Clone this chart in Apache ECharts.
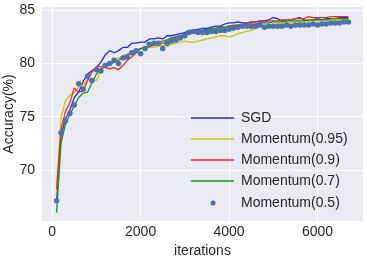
<!DOCTYPE html>
<html>
<head>
<meta charset="utf-8">
<script src="https://cdn.jsdelivr.net/npm/echarts@6/dist/echarts.min.js"></script>
<style>
html,body{margin:0;padding:0;background:#fff;}
#c{width:367px;height:262px;}
</style>
</head>
<body>
<div id="c"></div>
<script>
var iterations = [100,200,300,400,500,600,700,800,900,1000,1100,1200,1300,1400,1500,1600,1700,1800,1900,2000,2100,2200,2300,2400,2500,2600,2700,2800,2900,3000,3100,3200,3300,3400,3500,3600,3700,3800,3900,4000,4100,4200,4300,4400,4500,4600,4700,4800,4900,5000,5100,5200,5300,5400,5500,5600,5700,5800,5900,6000,6100,6200,6300,6400,6500,6600,6700];

var sgd = [67.0,73.2,74.8,75.6,76.8,77.3,78.3,79.0,79.3,79.6,80.1,80.8,81.2,81.0,81.2,81.5,81.5,81.9,81.9,82.0,82.0,82.3,82.3,82.4,82.3,82.6,82.6,82.7,82.8,82.9,83.1,83.1,83.2,83.3,83.3,83.4,83.5,83.5,83.7,83.8,83.8,83.9,83.8,83.8,83.9,83.9,84.0,84.0,84.1,84.3,84.2,84.0,84.0,84.1,84.2,84.3,84.1,84.0,84.1,84.2,84.1,84.2,84.2,84.2,84.3,84.3,84.3];

var mom095 = [68.0,74.9,76.5,77.0,77.3,77.8,78.0,78.5,78.4,78.4,79.3,79.7,80.0,80.3,80.5,80.7,80.9,81.0,81.2,81.4,81.4,81.5,81.5,81.6,81.7,81.6,81.8,81.9,82.0,82.1,82.0,82.0,82.1,82.2,82.3,82.4,82.5,82.6,82.6,82.5,82.6,82.8,82.9,83.0,83.1,83.3,83.5,83.6,83.6,83.7,83.7,83.8,83.8,83.8,83.9,83.9,83.9,84.0,84.0,84.0,84.0,84.0,84.1,84.1,84.1,84.1,84.1];

var mom09 = [68.2,73.8,75.5,76.3,77.7,77.3,77.4,78.4,79.2,79.7,79.7,79.6,79.5,79.6,79.4,79.8,80.3,80.6,81.0,81.4,81.5,81.6,81.7,81.8,81.9,82.0,82.3,82.5,82.6,82.6,82.8,82.9,83.0,83.1,83.1,83.2,83.3,83.4,83.4,83.5,83.6,83.6,83.7,83.8,83.8,83.9,83.9,83.9,84.0,84.0,84.0,84.1,84.1,84.1,84.2,84.2,84.2,84.4,84.3,84.3,84.3,84.3,84.4,84.4,84.4,84.4,84.4];

var mom07 = [66.0,72.5,74.3,75.2,76.0,76.8,77.2,77.3,78.2,79.0,79.5,79.7,79.9,80.1,80.3,80.6,80.8,81.0,81.2,81.4,81.5,81.6,81.8,82.0,82.1,82.2,82.4,82.5,82.6,82.8,82.9,83.0,83.1,83.1,83.2,83.3,83.3,83.4,83.4,83.5,83.5,83.6,83.6,83.7,83.7,83.7,83.8,83.8,83.8,83.9,83.9,83.9,84.0,84.0,84.0,84.0,84.0,84.1,84.1,84.1,84.1,84.1,84.2,84.2,84.2,84.2,84.2];

var mom05 = [67.1,73.5,74.6,75.3,76.1,78.1,77.6,78.8,78.4,79.4,79.3,79.8,80.0,80.3,80.0,80.5,80.6,81.0,81.2,80.9,81.4,81.8,81.9,81.9,81.4,81.9,82.1,82.2,82.4,82.6,82.9,83.0,82.9,82.9,82.9,83.0,83.0,83.1,83.1,83.2,83.3,83.4,83.5,83.5,83.5,83.5,83.6,83.4,83.5,83.5,83.5,83.5,83.6,83.5,83.6,83.6,83.6,83.6,83.7,83.6,83.7,83.7,83.8,83.8,83.8,83.9,83.9];

var xTicks = [0,2000,4000,6000];
var yTicks = [70,75,80,85];
var seriesNames = ['SGD','Momentum(0.95)','Momentum(0.9)','Momentum(0.7)','Momentum(0.5)'];
var colors = ['#2222ff','#c8c800','#ff2222','#119911','#4C72B0'];

function pairs(ys){ return iterations.map(function(x,i){ return [x, ys[i]]; }); }

var FONT = "'Liberation Sans', Arial, sans-serif";
var TXT = '#262626';
var chart = echarts.init(document.getElementById('c'), null, {renderer:'canvas'});

function lineSeries(name, ys, color){
  return {name:name, type:'line', data:pairs(ys), symbol:'none', showSymbol:false,
    lineStyle:{color:color, width:1.3}, itemStyle:{color:color}, animation:false, z:2};
}

var lineIcon = 'path://M0,0H43V1.6H0Z';

chart.setOption({
  animation:false,
  grid:{left:42, right:4, top:7, bottom:41, show:true, backgroundColor:'#EAEAF2', borderWidth:0,
    containLabel:false, outerBoundsMode:'none'},
  xAxis:{type:'value', min:-230, max:7030,
    name:'iterations', nameLocation:'middle', nameGap:18,
    nameTextStyle:{color:TXT, fontSize:14, fontFamily:FONT},
    axisLine:{show:false}, axisTick:{show:false, customValues:xTicks},
    axisLabel:{color:TXT, fontSize:14, fontFamily:FONT, margin:4, customValues:xTicks,
      formatter:function(v){ return String(v); }},
    splitLine:{show:true, lineStyle:{color:'#ffffff', width:1}}},
  yAxis:{type:'value', min:65.2, max:85.3,
    name:'Accuracy(%)', nameLocation:'middle', nameGap:26, nameMoveOverlap:false,
    nameTextStyle:{color:TXT, fontSize:14, fontFamily:FONT},
    axisLine:{show:false}, axisTick:{show:false, customValues:yTicks},
    axisLabel:{color:TXT, fontSize:14, fontFamily:FONT, margin:7, customValues:yTicks,
      formatter:function(v){ return String(v); }},
    splitLine:{show:true, lineStyle:{color:'#ffffff', width:1}}},
  legend:[{
    data:seriesNames.slice(0,4).map(function(n,i){ return {name:n, icon:lineIcon, itemStyle:{color:colors[i]}}; }),
    orient:'vertical', left:186, top:106, symbolKeepAspect:true,
    itemWidth:43, itemHeight:14, itemGap:7,
    textStyle:{color:TXT, fontSize:14, fontFamily:FONT, padding:[0,0,0,2]}
  },{
    data:[{name:seriesNames[4], icon:'circle', itemStyle:{color:colors[4]}}],
    orient:'vertical', left:205.5, top:191,
    itemWidth:5, itemHeight:5, itemGap:7,
    textStyle:{color:TXT, fontSize:14, fontFamily:FONT, padding:[0,0,0,20.5]}
  }],
  series:[
    lineSeries(seriesNames[0], sgd, colors[0]),
    lineSeries(seriesNames[1], mom095, colors[1]),
    lineSeries(seriesNames[2], mom09, colors[2]),
    lineSeries(seriesNames[3], mom07, colors[3]),
    {name:seriesNames[4], type:'scatter', data:pairs(mom05), symbol:'circle', symbolSize:5.5,
      itemStyle:{color:colors[4], opacity:1}, z:3, animation:false}
  ]
});
</script>
</body>
</html>
